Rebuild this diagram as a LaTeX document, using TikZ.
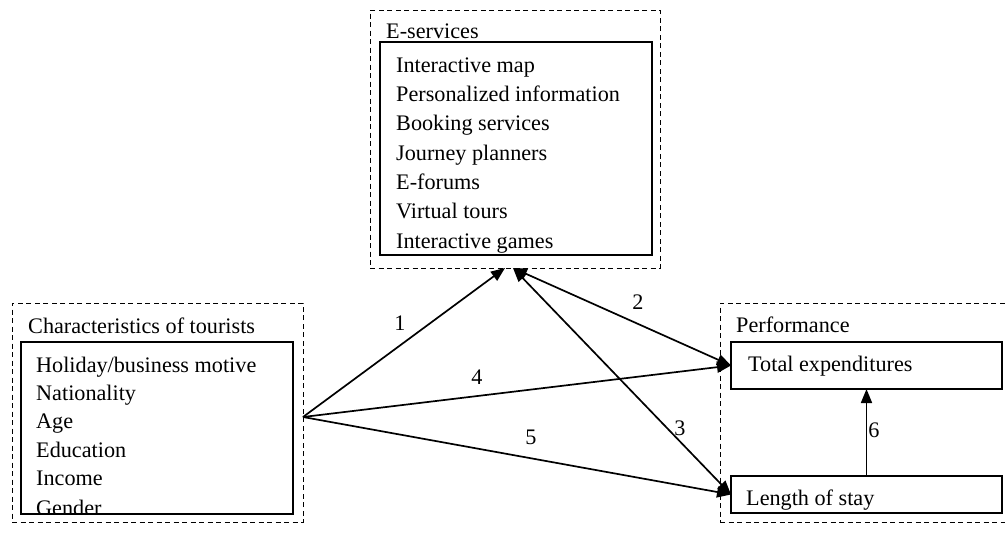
\documentclass[tikz,border=0pt]{standalone}
\usepackage{fontspec}
\setmainfont{Liberation Serif}
\usetikzlibrary{arrows.meta}
\begin{document}
\begin{tikzpicture}[x=1pt,y=-1pt,
  dbox/.style={draw, dash pattern=on 5pt off 3.5pt, line width=0.9pt, inner sep=0pt, outer sep=0pt, anchor=north west},
  sbox/.style={draw, line width=1.2pt, inner sep=0pt, outer sep=0pt, anchor=north west},
  txt/.style={anchor=base west, inner sep=0pt, font=\fontsize{22.2}{26}\selectfont},
  lbl/.style={inner sep=0pt, font=\fontsize{22.2}{26}\selectfont},
  arr/.style={line width=1.7pt, -{Triangle[length=14pt,width=11pt]}},
  darr/.style={line width=1.7pt, {Triangle[length=14pt,width=11pt]}-{Triangle[length=14pt,width=11pt]}}]
\useasboundingbox (0,0) rectangle (1005,533);
\clip (0,0) rectangle (1005,533);
% texts clipped to inner boxes
\begin{scope}
\clip (380,42) rectangle (652,255);
\node[txt] (e1) at (396,72) {Interactive map};
\node[txt] (e2) at (396,101) {Personalized information};
\node[txt] (e3) at (396,130) {Booking services};
\node[txt] (e4) at (396,160) {Journey planners};
\node[txt] (e5) at (396,189) {E-forums};
\node[txt] (e6) at (396,218) {Virtual tours};
\node[txt] (e7) at (396,248) {Interactive games};
\end{scope}
\begin{scope}
\clip (21,342) rectangle (293,514);
\node[txt] (c1) at (36,372) {Holiday/business motive};
\node[txt] (c2) at (36,400) {Nationality};
\node[txt] (c3) at (36,428) {Age};
\node[txt] (c4) at (36,457) {Education};
\node[txt] (c5) at (36,485) {Income};
\node[txt] (c6) at (36,515) {Gender};
\end{scope}
% boxes
\node[dbox, minimum width=290pt, minimum height=258pt] (es) at (370,10) {};
\node[sbox, minimum width=272pt, minimum height=213pt] (esi) at (380,42) {};
\node[dbox, minimum width=291pt, minimum height=219pt] (ct) at (12,303) {};
\node[sbox, minimum width=272pt, minimum height=172pt] (cti) at (21,342) {};
\node[dbox, minimum width=292pt, minimum height=219pt] (pf) at (720,303) {};
\node[sbox, minimum width=271pt, minimum height=47pt] (te) at (731,342) {};
\node[sbox, minimum width=271pt, minimum height=37pt] (ls) at (731,476) {};
% titles
\node[txt] (est) at (386,38) {E-services};
\node[txt] (ctt) at (28,333) {Characteristics of tourists};
\node[txt] (pft) at (736,332) {Performance};
\node[txt] (tet) at (748,371) {Total expenditures};
\node[txt] (lst) at (746,505) {Length of stay};
% connectors
\coordinate (src) at (303,417);
\coordinate (top1) at (505,268);
\coordinate (top2) at (513,268);
\draw[arr] (src) -- (top1);
\draw[arr] (src) -- (te.west);
\draw[arr] (src) -- (ls.west);
\draw[darr] (top2) -- (te.west);
\draw[darr] (top2) -- (ls.west);
\draw[arr] (ls.north) -- (te.south);
% labels
\node[lbl] (l1) at (400,323) {1};
\node[lbl] (l2) at (638,302) {2};
\node[lbl] (l3) at (680,428) {3};
\node[lbl] (l4) at (477,377) {4};
\node[lbl] (l5) at (531,437) {5};
\node[lbl] (l6) at (874,430) {6};
\end{tikzpicture}
\end{document}
